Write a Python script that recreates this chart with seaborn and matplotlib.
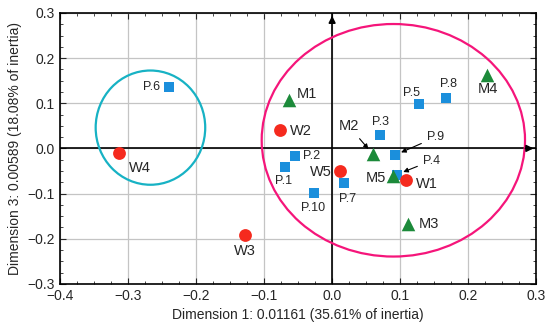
import matplotlib
matplotlib.use("Agg")
import matplotlib.pyplot as plt
from matplotlib.patches import Ellipse
from matplotlib.ticker import MultipleLocator
import pandas as pd
import seaborn as sns

# point coordinates
labels = ["W1", "W2", "W3", "W4", "W5",
          "M1", "M2", "M3", "M4", "M5",
          "P.1", "P.2", "P.3", "P.4", "P.5", "P.6", "P.7", "P.8", "P.9", "P.10"]
dim1 = [0.108, -0.076, -0.128, -0.313, 0.011,
        -0.063, 0.060, 0.111, 0.228, 0.089,
        -0.069, -0.055, 0.071, 0.095, 0.128, -0.240, 0.018, 0.168, 0.092, -0.026]
dim3 = [-0.071, 0.040, -0.191, -0.011, -0.049,
        0.107, -0.013, -0.168, 0.163, -0.062,
        -0.041, -0.017, 0.030, -0.058, 0.099, 0.135, -0.077, 0.112, -0.015, -0.098]
groups = ["W"] * 5 + ["M"] * 5 + ["P"] * 10

# label offsets in pixels (dx, dy) and which ones get an arrow
offsets = {
    "W1": (21, -4), "W2": (20, -1), "W3": (0, -16), "W4": (21, -15), "W5": (-19, -1),
    "M1": (18, 6), "M2": (-24, 28), "M3": (21, 0), "M4": (1, -14), "M5": (-17, -2),
    "P.1": (-2, -14), "P.2": (17, 0), "P.3": (0, 13), "P.4": (35, 14), "P.5": (-8, 11),
    "P.6": (-17, 0), "P.7": (3, -16), "P.8": (2, 14), "P.9": (41, 18), "P.10": (-1, -15),
}
arrowed = ["M2", "P.9", "P.4"]

df = pd.DataFrame({"label": labels, "dim1": dim1, "dim3": dim3, "group": groups})

colors = {"W": "#f52a1e", "M": "#1c8a3a", "P": "#1b8fdc"}
markers = {"W": "o", "M": "^", "P": "s"}
sizes = {"W": 85, "M": 95, "P": 50}

sns.set_style("ticks")
plt.rcParams["font.family"] = ["Liberation Sans", "DejaVu Sans"]

fig = plt.figure(figsize=(5.5, 3.32), dpi=100)
ax = fig.add_axes([0.109, 0.145, 0.866, 0.816])

ax.set_xlim(-0.4, 0.3)
ax.set_ylim(-0.3, 0.3)
ax.xaxis.set_major_locator(MultipleLocator(0.1))
ax.yaxis.set_major_locator(MultipleLocator(0.1))
ax.xaxis.set_minor_locator(MultipleLocator(0.025))
ax.yaxis.set_minor_locator(MultipleLocator(0.025))
ax.grid(True, which="major", color="#c4c4c4", lw=0.9)
ax.set_axisbelow(True)
ax.tick_params(which="both", direction="in", top=True, right=True, labelsize=10)
ax.tick_params(which="major", length=4)
ax.tick_params(which="minor", length=2)
for s in ax.spines.values():
    s.set_color("black")
    s.set_linewidth(1.2)

fmt = plt.FuncFormatter(lambda v, p: f"{v:.1f}".replace("-", "\u2212"))
ax.xaxis.set_major_formatter(fmt)
ax.yaxis.set_major_formatter(fmt)

# zero axes with arrowheads
ax.axhline(0, color="black", lw=1.2, zorder=1)
ax.axvline(0, color="black", lw=1.2, zorder=1)
ax.annotate("", xy=(0.3, 0), xytext=(0.28, 0),
            arrowprops=dict(arrowstyle="-|>", color="black", lw=1.2, mutation_scale=10))
ax.annotate("", xy=(0, 0.3), xytext=(0, 0.28),
            arrowprops=dict(arrowstyle="-|>", color="black", lw=1.2, mutation_scale=10))

# cluster ellipses
ax.add_patch(Ellipse((-0.267, 0.046), 0.161, 0.253, fill=False, ec="#17b2c4", lw=1.6, zorder=2))
ax.add_patch(Ellipse((0.09, 0.018), 0.387, 0.515, fill=False, ec="#f5157a", lw=1.6, zorder=2))

for g in ["P", "W", "M"]:
    sub = df[df["group"] == g]
    sns.scatterplot(data=sub, x="dim1", y="dim3", marker=markers[g], color=colors[g],
                    s=sizes[g], linewidth=0, ax=ax, zorder=3, legend=False)

for _, row in df.iterrows():
    dx, dy = offsets[row["label"]]
    fs = 9 if row["group"] == "P" else 10.5
    if row["label"] in arrowed:
        ax.annotate(row["label"], xy=(row["dim1"], row["dim3"]), xytext=(dx, dy),
                    textcoords="offset pixels", ha="center", va="center", fontsize=fs,
                    arrowprops=dict(arrowstyle="-|>", color="black", lw=0.8,
                                    mutation_scale=7, shrinkA=2, shrinkB=5))
    else:
        ax.annotate(row["label"], xy=(row["dim1"], row["dim3"]), xytext=(dx, dy),
                    textcoords="offset pixels", ha="center", va="center", fontsize=fs)

ax.set_xlabel("Dimension 1: 0.01161 (35.61% of inertia)", fontsize=10)
ax.set_ylabel("Dimension 3: 0.00589 (18.08% of inertia)", fontsize=10)

fig.savefig("out.png", dpi=100)
